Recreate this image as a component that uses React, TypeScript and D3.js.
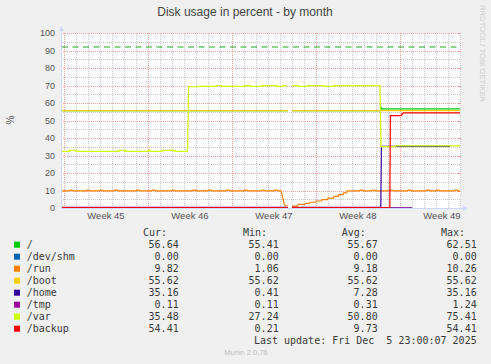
import React from 'react';
import * as d3 from 'd3';

const W = 491;
const H = 364;

// time axis: days since Monday 3 Nov 2025 00:00 (start of ISO week 45)
const weekStarts = [0, 7, 14, 21, 28];
const weekLabels = ['Week 45', 'Week 46', 'Week 47', 'Week 48', 'Week 49'];
const dayTicks = d3.range(0, 34, 1);
const yTicks = [0, 10, 20, 30, 40, 50, 60, 70, 80, 90, 100];
const yMinorTicks = [5, 15, 25, 35, 45, 55, 65, 75, 85, 95];
const warningLevel = 92;

const seriesNames = ['/', '/dev/shm', '/run', '/boot', '/home', '/tmp', '/var', '/backup'];
const seriesColors = ['#00cc00', '#0066b3', '#ff8000', '#ffcc00', '#330099', '#990099', '#ccff00', '#ff0000'];
const curVals = ['56.64', '0.00', '9.82', '55.62', '35.16', '0.11', '35.48', '54.41'];
const minVals = ['55.41', '0.00', '1.06', '55.62', '0.41', '0.11', '27.24', '0.21'];
const avgVals = ['55.67', '0.00', '9.18', '55.62', '7.28', '0.31', '50.80', '9.73'];
const maxVals = ['62.51', '0.00', '10.26', '55.62', '35.16', '1.24', '75.41', '54.41'];

type P = [number, number];

const rootData: P[] = [[-0.2, 55.6], [18.65, 55.6], [18.66, NaN], [19.0, 55.6], [26.38, 55.6], [26.42, 57.5], [26.48, 56.64], [33.0, 56.64]];
const shmData: P[] = [[-0.2, 0], [18.65, 0], [18.66, NaN], [19.0, 0], [29.0, 0]];
const runData: P[] = [
  [-0.2, 9.82], [0.45, 9.82], [0.5, 10.2], [0.7, 10.2], [0.75, 9.82],
  [1.87, 9.82], [1.92, 10.2], [2.1, 10.2], [2.15, 9.82],
  [2.95, 9.82], [3.0, 10.2], [3.2, 10.2], [3.25, 9.82],
  [4.2, 9.82], [4.25, 10.2], [4.45, 10.2], [4.5, 9.82],
  [6.03, 9.82], [6.08, 10.2], [6.28, 10.2], [6.33, 9.82],
  [7.28, 9.82], [7.33, 10.2], [7.53, 10.2], [7.58, 9.82],
  [8.95, 9.82], [9.0, 10.2], [9.2, 10.2], [9.25, 9.82],
  [10.7, 9.82], [10.75, 10.2], [10.95, 10.2], [11.0, 9.82],
  [11.95, 9.82], [12.0, 10.2], [12.2, 10.2], [12.25, 9.82],
  [13.53, 9.82], [13.58, 10.2], [13.78, 10.2], [13.83, 9.82],
  [15.03, 9.82], [15.08, 10.2], [15.28, 10.2], [15.33, 9.82],
  [16.45, 9.82], [16.5, 10.2], [16.7, 10.2], [16.75, 9.82],
  [17.53, 9.82], [17.58, 10.2], [17.78, 10.2], [17.83, 9.82],
  [18.1, 9.82], [18.25, 5.0], [18.35, 2.0], [18.45, 1.3], [18.65, 1.3], [18.66, NaN],
  [19.0, 1.1], [19.45, 1.1], [19.5, 2.1], [20.05, 2.1], [20.1, 2.7], [20.45, 2.7], [20.5, 3.3],
  [20.95, 3.3], [21.0, 4.0], [21.45, 4.0], [21.5, 4.8], [21.95, 4.8], [22.0, 5.6], [22.45, 5.6],
  [22.5, 6.6], [22.85, 6.6], [22.9, 7.6], [23.25, 7.6], [23.3, 8.6], [23.55, 8.6], [23.6, 9.82],
  [24.62, 9.82], [24.67, 10.2], [24.87, 10.2], [24.92, 9.82],
  [25.62, 9.82], [25.67, 10.2], [25.87, 10.2], [25.92, 9.82],
  [27.12, 9.82], [27.17, 10.2], [27.37, 10.2], [27.42, 9.82],
  [28.62, 9.82], [28.67, 10.2], [28.87, 10.2], [28.92, 9.82],
  [30.2, 9.82], [30.25, 10.2], [30.45, 10.2], [30.5, 9.82],
  [31.03, 9.82], [31.08, 10.2], [31.28, 10.2], [31.33, 9.82],
  [32.53, 9.82], [32.58, 10.2], [32.78, 10.2], [32.83, 9.82], [33.0, 9.82],
];
const bootData: P[] = [[-0.2, 55.62], [18.65, 55.62], [18.66, NaN], [19.0, 55.62], [33.0, 55.62]];
const homeData: P[] = [[-0.2, 0.41], [18.65, 0.41], [18.66, NaN], [19.0, 0.41], [26.4, 0.41], [26.45, 35.16], [32.17, 35.16]];
const tmpData: P[] = [[-0.2, 0.15], [18.65, 0.15], [18.66, NaN], [19.0, 0.15], [29.0, 0.15]];
const varData: P[] = [
  [-0.2, 32.4], [0.5, 32.4], [0.5, 33.0], [1.0, 33.0], [1.0, 32.4],
  [4.58, 32.4], [4.58, 33.0], [5.08, 33.0], [5.08, 32.4],
  [7.0, 32.4], [7.0, 32.9], [7.17, 32.9], [7.17, 32.4],
  [8.17, 32.4], [8.17, 32.9], [9.25, 32.9], [9.25, 32.4],
  [10.3, 32.4], [10.38, 69.3], [11.17, 69.3], [11.17, 69.5], [12.67, 69.5], [12.67, 69.9],
  [13.17, 69.9], [13.17, 69.5], [15.08, 69.5], [15.08, 69.9], [15.5, 69.9], [15.5, 69.5],
  [16.5, 69.5], [16.5, 69.9], [17.75, 69.9], [17.75, 69.5], [18.25, 69.5], [18.25, 69.9],
  [18.6, 69.9], [18.61, NaN],
  [19.0, 69.9], [19.5, 69.9], [19.5, 69.5], [20.33, 69.5], [20.33, 69.9], [21.67, 69.9],
  [21.67, 69.5], [22.5, 69.5], [22.5, 69.9], [26.33, 69.9], [26.42, 35.1], [27.6, 35.1],
  [27.6, 35.48], [33.0, 35.48],
];
const backupData: P[] = [[-0.2, 0.21], [18.65, 0.21], [18.66, NaN], [19.0, 0.21], [27.15, 0.21], [27.2, 52.8], [28.1, 52.8], [28.15, 53.6], [28.22, 53.6], [28.26, 54.41], [33.0, 54.41]];

const seriesData: P[][] = [rootData, shmData, runData, bootData, homeData, tmpData, varData, backupData];

const SANS = "'Liberation Sans', Arial, sans-serif";
const MONO = "'DejaVu Sans Mono', monospace";

export default function App() {
  const x = d3.scaleLinear().domain([-0.25, 33.0833]).range([61, 461]);
  const y = d3.scaleLinear().domain([0, 100]).range([208, 33]);
  const line = d3
    .line<P>()
    .defined((d) => !isNaN(d[1]))
    .x((d) => x(d[0]))
    .y((d) => y(d[1]));

  const px0 = x.range()[0];
  const px1 = x.range()[1];
  const py0 = y.range()[0];
  const py1 = y.range()[1];

  const legendBase = 247.7;
  const rowH = 12;

  return (
    <svg width={W} height={H} style={{ position: 'absolute', left: 0, top: 0 }} xmlns="http://www.w3.org/2000/svg">
      <rect x={0} y={0} width={W} height={H} fill="#f0f0f0" />
      <rect x={px0} y={py1} width={px1 - px0} height={py0 - py1} fill="#ffffff" />

      {dayTicks.filter((d) => weekStarts.indexOf(d) < 0).map((d) => (
        <line key={'vd' + d} x1={Math.round(x(d)) + 0.5} x2={Math.round(x(d)) + 0.5} y1={py1} y2={py0} stroke="#c8c8c8" strokeDasharray="1,1" />
      ))}
      {yMinorTicks.map((v) => (
        <line key={'hm' + v} x1={px0} x2={px1} y1={Math.round(y(v)) + 0.5} y2={Math.round(y(v)) + 0.5} stroke="#c8c8c8" strokeDasharray="1,1" />
      ))}
      {weekStarts.map((d) => (
        <line key={'vw' + d} x1={Math.round(x(d)) + 0.5} x2={Math.round(x(d)) + 0.5} y1={py1} y2={py0} stroke="#f4a0a0" strokeDasharray="1,1" />
      ))}
      {yTicks.filter((v) => v > 0).map((v) => (
        <g key={'hM' + v}>
          <line x1={px0} x2={px1} y1={Math.round(y(v)) + 0.5} y2={Math.round(y(v)) + 0.5} stroke="#f4a0a0" strokeDasharray="1,1" />
          <line x1={px1 - 3} x2={px1} y1={Math.round(y(v)) + 0.5} y2={Math.round(y(v)) + 0.5} stroke="#f4a0a0" />
        </g>
      ))}

      {seriesData.map((data, i) => (
        <path key={'s' + i} d={line(data) || ''} fill="none" stroke={seriesColors[i]} strokeWidth={1.2} />
      ))}

      <line x1={px0 + 1} x2={px1 - 1} y1={y(warningLevel)} y2={y(warningLevel)} stroke="#1fa81f" strokeWidth={1.2} strokeDasharray="6,4.5" />

      <line x1={px0 + 0.5} x2={px0 + 0.5} y1={py0 + 0.5} y2={py1 - 4} stroke="#cfd6f8" />
      <path d={`M${px0 - 2},${py1 - 2} L${px0 + 3},${py1 - 2} L${px0 + 0.5},${py1 - 7} Z`} fill="#cfd6f8" />
      <line x1={px0} x2={px1 + 3} y1={py0 + 0.5} y2={py0 + 0.5} stroke="#cfd6f8" />
      <path d={`M${px1 + 2},${py0 - 2.5} L${px1 + 2},${py0 + 3.5} L${px1 + 7},${py0 + 0.5} Z`} fill="#cfd6f8" />

      {yTicks.map((v) => (
        <text key={'yl' + v} x={55} y={y(v) + 3.2} textAnchor="end" fontFamily={SANS} fontSize={9} fill="#555">
          {v}
        </text>
      ))}
      {weekStarts.map((d, i) => (
        <text key={'xl' + d} x={x(d + 3.5)} y={219} textAnchor="middle" fontFamily={SANS} fontSize={9.5} fill="#555">
          {weekLabels[i]}
        </text>
      ))}

      <text x={245} y={16} textAnchor="middle" fontFamily={SANS} fontSize={12} fill="#444">
        Disk usage in percent - by month
      </text>
      <text transform="translate(14,120) rotate(-90)" textAnchor="middle" fontFamily={SANS} fontSize={10} fill="#555">
        %
      </text>
      <text transform="translate(480,5) rotate(90)" fontFamily={SANS} fontSize={7.7} fill="#cccccc">
        RRDTOOL / TOBI OETIKER
      </text>

      <g fontFamily={MONO} fontSize={10} fill="#3a3a3a">
        <text x={143} y={legendBase - rowH}>Cur:</text>
        <text x={243} y={legendBase - rowH}>Min:</text>
        <text x={341.7} y={legendBase - rowH}>Avg:</text>
        <text x={441} y={legendBase - rowH}>Max:</text>
        {seriesNames.map((n, i) => (
          <g key={'lg' + i}>
            <rect x={14} y={legendBase + i * rowH - 6} width={6} height={6} fill={seriesColors[i]} />
            <text x={26.7} y={legendBase + i * rowH}>{n}</text>
            <text x={178.7} y={legendBase + i * rowH} textAnchor="end">{curVals[i]}</text>
            <text x={278.7} y={legendBase + i * rowH} textAnchor="end">{minVals[i]}</text>
            <text x={377.7} y={legendBase + i * rowH} textAnchor="end">{avgVals[i]}</text>
            <text x={476.7} y={legendBase + i * rowH} textAnchor="end">{maxVals[i]}</text>
          </g>
        ))}
        <text x={476.7} y={legendBase + 8 * rowH} textAnchor="end" style={{ whiteSpace: 'pre' }}>
          {'Last update: Fri Dec  5 23:00:07 2025'}
        </text>
      </g>

      <text x={246} y={354.5} textAnchor="middle" fontFamily={SANS} fontSize={7.5} fill="#c0c0c0">
        Munin 2.0.76
      </text>
    </svg>
  );
}
